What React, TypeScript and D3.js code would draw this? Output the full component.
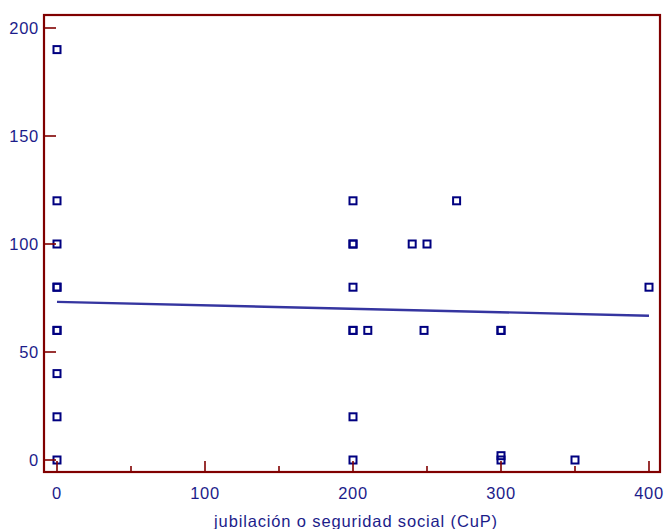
import React from "react";
import * as d3 from "d3";

const xValues = [0, 0, 0, 0, 0, 0, 0, 0, 0, 0, 200, 200, 200, 200, 200, 200, 200, 200, 210, 240, 250, 248, 270, 300, 300, 300, 300, 350, 400];
const yValues = [190, 120, 100, 80, 80, 60, 60, 40, 20, 0, 120, 100, 100, 80, 60, 60, 20, 0, 60, 100, 100, 60, 120, 60, 60, 2, 0, 0, 80];
const xTicks = [0, 100, 200, 300, 400];
const xMinorTicks = [50, 150, 250, 350];
const yTicks = [0, 50, 100, 150, 200];
const regIntercept = 73.2;
const regSlope = -0.016;
const lineX = [0, 400];
const xTitle = "jubilación o seguridad social (CuP)";

export default function App() {
  const W = 665, H = 529;
  const left = 44, right = 660, top = 15, bottom = 472;
  const x = d3.scaleLinear().domain([0, 400]).range([57, 649]);
  const y = d3.scaleLinear().domain([0, 200]).range([460, 28]);
  const axisColor = "#800000";
  const textColor = "#1c1c8a";
  const ptColor = "#000080";
  const font = "'Liberation Sans', Arial, sans-serif";
  const line = d3.line<number>().x((d) => x(d)).y((d) => y(regIntercept + regSlope * d));
  const s = 7;
  return (
    <svg width={W} height={H} style={{ position: "absolute", left: 0, top: 0 }} fontFamily={font}>
      <rect x={0} y={0} width={W} height={H} fill="#fff" />
      {/* regression line */}
      <path d={line(lineX) || ""} stroke="#3535a0" strokeWidth={2.4} fill="none" />
      {/* points */}
      {xValues.map((xv, i) => (
        <rect key={i} x={x(xv) - s / 2} y={y(yValues[i]) - s / 2} width={s} height={s}
          fill="none" stroke={ptColor} strokeWidth={2} />
      ))}
      {/* frame */}
      <rect x={left} y={top} width={right - left} height={bottom - top} fill="none" stroke={axisColor} strokeWidth={2.2} />
      {/* y ticks */}
      {yTicks.map((t) => (
        <g key={"y" + t}>
          <line x1={left} x2={left + 12} y1={y(t)} y2={y(t)} stroke={axisColor} strokeWidth={1.6} />
          <text x={39} y={y(t)} dy="0.36em" textAnchor="end" fontSize={16.5} letterSpacing={0.7} fill={textColor}>{t}</text>
        </g>
      ))}
      {/* x ticks */}
      {xTicks.map((t) => (
        <g key={"x" + t}>
          <line x1={x(t)} x2={x(t)} y1={bottom} y2={bottom - 11} stroke={axisColor} strokeWidth={1.6} />
          <text x={x(t)} y={499} textAnchor="middle" fontSize={16.5} letterSpacing={0.7} fill={textColor}>{t}</text>
        </g>
      ))}
      {xMinorTicks.map((t) => (
        <line key={"m" + t} x1={x(t)} x2={x(t)} y1={bottom} y2={bottom - 6} stroke={axisColor} strokeWidth={1.6} />
      ))}
      <text x={356} y={527} textAnchor="middle" fontSize={16.5} letterSpacing={0.85} fill={textColor}>{xTitle}</text>
    </svg>
  );
}
